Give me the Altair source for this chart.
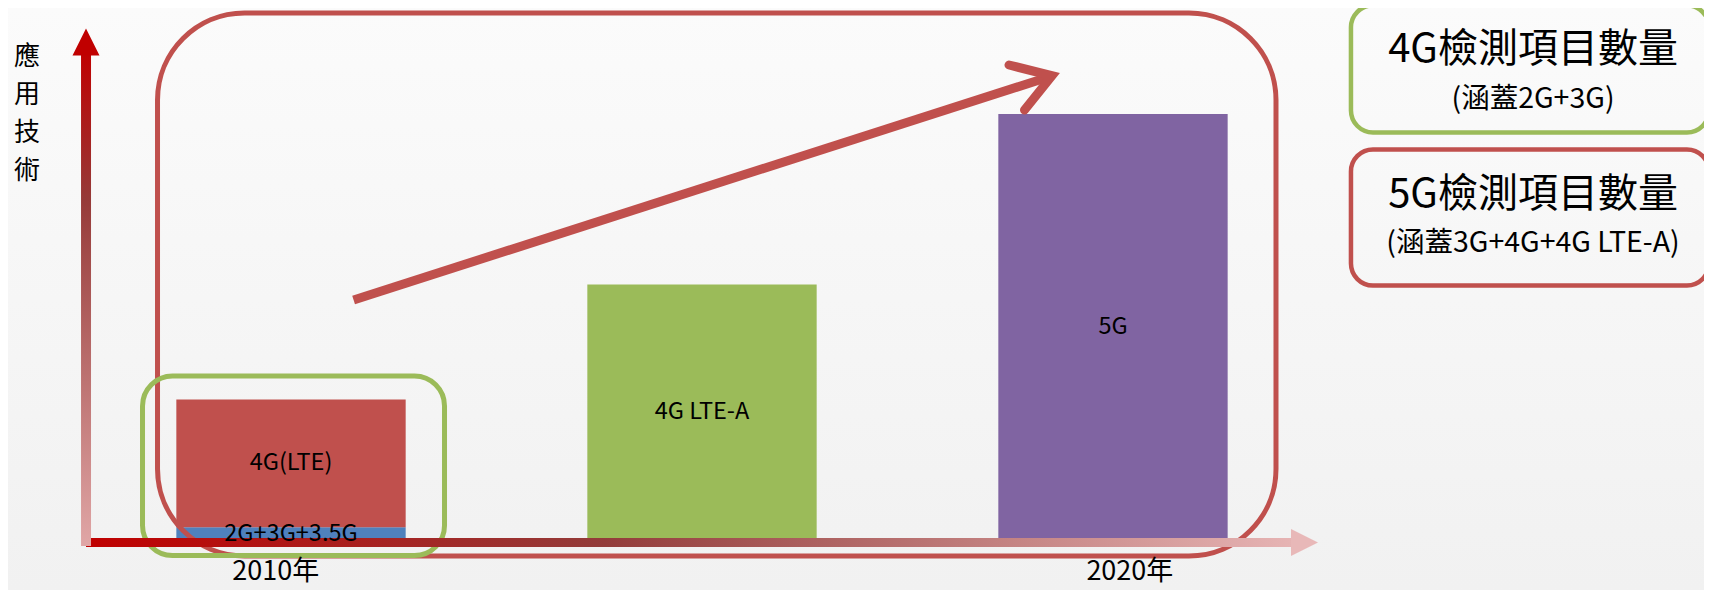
import altair as alt
import pandas as pd

# ---------------- chart values ----------------
segments = ["2G+3G+3.5G", "4G(LTE)", "4G LTE-A", "5G"]
segment_slot = [0, 0, 1, 2]
segment_value = [3, 30, 60, 100]
segment_color = ["#4f81bd", "#c0504d", "#9bbb59", "#8064a2"]

year_labels = ["2010年", "2020年"]
year_slot = [-0.037, 2.041]

y_title = "應\n用\n技\n術"

legend_titles = ["4G檢測項目數量", "5G檢測項目數量"]
legend_notes = ["(涵蓋2G+3G)", "(涵蓋3G+4G+4G LTE-A)"]
legend_colors = ["#9bbb59", "#c0504d"]

# ---------------- layout (data units) ----------------
X_DOM = [-0.6886, 3.438]
Y_DOM = [-11.74, 124.88]
HALF = 0.279
FONT = "Noto Sans CJK TC"

XS = alt.Scale(domain=X_DOM, nice=False, zero=False)
YS = alt.Scale(domain=Y_DOM, nice=False, zero=False)


def X(f):
    return alt.X(f, type="quantitative", scale=XS, axis=None)


def Y(f):
    return alt.Y(f, type="quantitative", scale=YS, axis=None)


bars = pd.DataFrame({"seg": segments, "g": segment_slot, "v": segment_value, "c": segment_color})
bars["y1"] = bars.groupby("g")["v"].cumsum()
bars["y0"] = bars["y1"] - bars["v"]

background = alt.Chart(pd.DataFrame({"x0": [X_DOM[0]], "x1": [X_DOM[1]], "y0": [Y_DOM[0]], "y1": [Y_DOM[1]]})).mark_rect(
    color=alt.LinearGradient(gradient="linear", x1=0, x2=0, y1=0, y2=1,
                             stops=[alt.GradientStop(offset=0, color="#fbfbfb"),
                                    alt.GradientStop(offset=1, color="#f1f1f1")])
).encode(x=X("x0"), x2=alt.X2("x1"), y=Y("y0"), y2=alt.Y2("y1"))

bar_layer = alt.Chart(bars).transform_calculate(
    xa=f"datum.g - {HALF}", xb=f"datum.g + {HALF}"
).mark_rect().encode(
    x=X("xa"), x2=alt.X2("xb"), y=Y("y0"), y2=alt.Y2("y1"),
    color=alt.Color("c:N", scale=None)
)

label_layer = alt.Chart(bars).transform_calculate(
    ym="(datum.y0 + datum.y1) / 2"
).mark_text(font=FONT, fontSize=23.5, color="#000000").encode(
    x=X("g"), y=Y("ym"), text="seg:N"
)


def frame(x0, x1, y0, y1, color, radius, width=5):
    df = pd.DataFrame({"x0": [x0], "x1": [x1], "y0": [y0], "y1": [y1]})
    return alt.Chart(df).mark_rect(fillOpacity=0, stroke=color, strokeWidth=width, cornerRadius=radius).encode(
        x=X("x0"), x2=alt.X2("x1"), y=Y("y0"), y2=alt.Y2("y1"))


red_frame = frame(-0.3248, 2.3966, 123.7, -3.75, "#c0504d", 87)
green_frame = frame(-0.3613, 0.3735, 38.5, -3.64, "#9bbb59", 30)

legend_box = pd.DataFrame({"x0": [2.579, 2.579], "x1": [3.450, 3.450],
                           "y0": [125.5, 91.67], "y1": [95.66, 59.74], "c": legend_colors})
legend_boxes = alt.Chart(legend_box).mark_rect(fillOpacity=0, strokeWidth=4.5, cornerRadius=22).encode(
    x=X("x0"), x2=alt.X2("x1"), y=Y("y0"), y2=alt.Y2("y1"),
    stroke=alt.Stroke("c:N", scale=None))

# axis arrows
y_shaft = alt.Chart(pd.DataFrame({"x0": [-0.5109], "x1": [-0.4866], "y0": [115.0], "y1": [-1.4]})).mark_rect(
    color=alt.LinearGradient(gradient="linear", x1=0, x2=0, y1=0, y2=1,
                             stops=[alt.GradientStop(offset=0, color="#c00000"),
                                    alt.GradientStop(offset=0.3, color="#963a38"),
                                    alt.GradientStop(offset=1, color="#e0a6a6")])
).encode(x=X("x0"), x2=alt.X2("x1"), y=Y("y0"), y2=alt.Y2("y1"))

x_shaft = alt.Chart(pd.DataFrame({"x0": [-0.4988], "x1": [2.4355], "y0": [0.47], "y1": [-1.64]})).mark_rect(
    color=alt.LinearGradient(gradient="linear", x1=0, x2=1, y1=0, y2=0,
                             stops=[alt.GradientStop(offset=0, color="#c00000"),
                                    alt.GradientStop(offset=0.43, color="#933c3a"),
                                    alt.GradientStop(offset=1, color="#e6b4b4")])
).encode(x=X("x0"), x2=alt.X2("x1"), y=Y("y0"), y2=alt.Y2("y1"))

y_head = alt.Chart(pd.DataFrame({"x": [-0.4988], "y": [116.9]})).mark_point(
    shape="M0,-1L1,1L-1,1Z", filled=True, size=729, color="#c00000", opacity=1, strokeWidth=0
).encode(x=X("x"), y=Y("y"))

x_head = alt.Chart(pd.DataFrame({"x": [2.4659], "y": [-0.587]})).mark_point(
    shape="M-1,-1L1,0L-1,1Z", filled=True, size=729, color="#e8b8b8", opacity=1, strokeWidth=0
).encode(x=X("x"), y=Y("y"))

# trend arrow
trend = alt.Chart(pd.DataFrame({"x": [0.1523, 1.8470], "y": [56.34, 108.8]})).mark_line(
    color="#c0504d", strokeWidth=9, strokeCap="butt"
).encode(x=X("x"), y=Y("y"))

chevron = alt.Chart(pd.DataFrame({"x": [1.7470, 1.8516, 1.7847], "y": [111.5, 108.97, 100.94], "o": [0, 1, 2]})).mark_line(
    color="#c0504d", strokeWidth=9, strokeCap="round", strokeJoin="miter"
).encode(x=X("x"), y=Y("y"), order=alt.Order("o:Q"))

# texts
years = alt.Chart(pd.DataFrame({"t": year_labels, "x": year_slot, "y": [-7.6, -7.6]})).mark_text(
    font=FONT, fontSize=27, color="#000000"
).encode(x=X("x"), y=Y("y"), text="t:N")

ytitle = alt.Chart(pd.DataFrame({"t": [y_title], "x": [-0.6423], "y": [113.4]})).mark_text(
    font=FONT, fontSize=26, color="#000000", lineBreak="\n", lineHeight=38
).encode(x=X("x"), y=Y("y"), text="t:N")

leg_titles = alt.Chart(pd.DataFrame({"t": legend_titles, "x": [3.022, 3.022], "y": [115.0, 80.9]})).mark_text(
    font=FONT, fontSize=40, color="#000000"
).encode(x=X("x"), y=Y("y"), text="t:N")

leg_notes = alt.Chart(pd.DataFrame({"t": legend_notes, "x": [3.022, 3.022], "y": [103.6, 69.6]})).mark_text(
    font=FONT, fontSize=28.5, color="#000000"
).encode(x=X("x"), y=Y("y"), text="t:N")

chart = alt.layer(
    background, bar_layer, red_frame, green_frame, x_shaft, y_shaft, y_head, x_head,
    trend, chevron, legend_boxes, label_layer, years, ytitle, leg_titles, leg_notes
).properties(
    width=1696, height=582, padding=0, background="#f6f6f6",
    autosize=alt.AutoSizeParams(type="none")
).configure_view(strokeWidth=0)

chart.save("out.html", embed_options={"renderer": "svg", "actions": False})
